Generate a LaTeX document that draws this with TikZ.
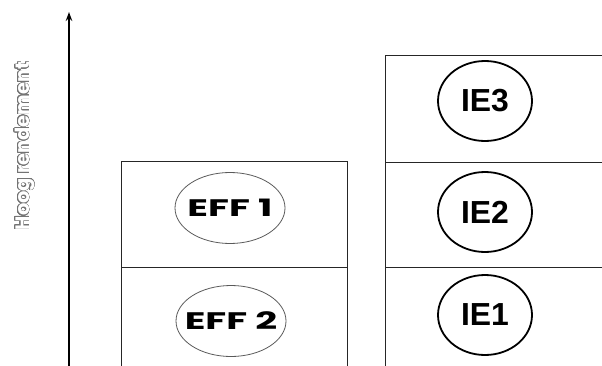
\documentclass[tikz,border=0pt]{standalone}
\usepackage{graphicx}
\usepackage{fontspec}
\setmainfont{Liberation Sans}
\newfontfamily\efffont{Poppins}
\usepackage{contour}
\contourlength{0.6pt}
\contournumber{24}
\usetikzlibrary{shapes.geometric,arrows.meta}
\newcommand{\efftext}[1]{\scalebox{1.6}[1]{#1}}
\begin{document}
\begin{tikzpicture}[x=1bp,y=1bp,
  cell/.style={draw=black!85,line width=0.9bp,minimum width=226bp,anchor=north west,inner sep=0pt},
  rcell/.style={draw=black!85,line width=0.9bp,minimum width=240bp,anchor=north west,inner sep=0pt},
  ieclass/.style={draw=black,line width=1.8bp,ellipse,minimum width=94bp,minimum height=80bp,inner sep=0pt,font=\fontsize{32}{34}\selectfont\bfseries},
  effclass/.style={draw=black!65,line width=0.8bp,ellipse,minimum width=110bp,minimum height=71bp,inner sep=0pt},
  efflabel/.style={font=\efffont\fontsize{24}{26}\selectfont\bfseries},
  axis/.style={line width=2bp,-{Stealth[length=9bp,width=6.5bp]}}]
\useasboundingbox (0,0) rectangle (602,365);
\clip (0,0) rectangle (602,365);
% left column
\node[cell,minimum height=106bp] (L1) at (121,204) {};
\node[cell,minimum height=110bp] (L2) at (121,98) {};
% right column
\node[rcell,minimum height=107bp] (R3) at (385,310) {};
\node[rcell,minimum height=105bp] (R2) at (385,203) {};
\node[rcell,minimum height=110bp] (R1) at (385,98) {};
% labels
\node[effclass,label={[efflabel]center:\efftext{EFF 1}}] (eff1) at (230,157) {};
\node[effclass,label={[efflabel]center:\efftext{EFF 2}}] (eff2) at (231,44) {};
\node[ieclass] (ie3) at (485,264) {IE3};
\node[ieclass] (ie2) at (485,153) {IE2};
\node[ieclass] (ie1) at (485,50) {IE1};
% axis
\coordinate (a0) at (69,-2);
\coordinate (a1) at (69,353);
\draw[axis] (a0) -- (a1);
\node[rotate=90,font=\efffont\fontsize{19.5}{22}\selectfont\bfseries] (lab) at (25,219) {\contour{black!55}{\color{white}Hoog rendement}};
\end{tikzpicture}
\end{document}
